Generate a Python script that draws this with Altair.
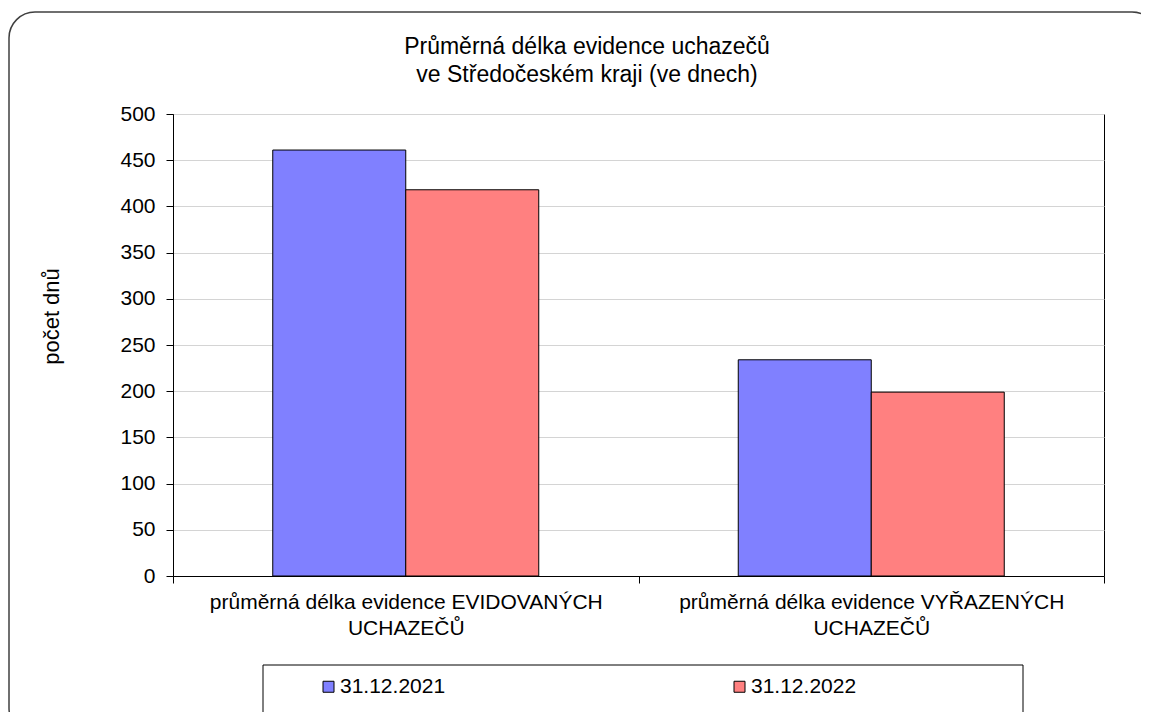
import altair as alt
import pandas as pd

categories = [
    "průměrná délka evidence EVIDOVANÝCH UCHAZEČŮ",
    "průměrná délka evidence VYŘAZENÝCH UCHAZEČŮ",
]
series = ["31.12.2021", "31.12.2022"]
values_2021 = [461, 234]
values_2022 = [418, 199]
colors = ["#8080FF", "#FF8080"]
y_ticks = [0, 50, 100, 150, 200, 250, 300, 350, 400, 450, 500]
title_lines = ["Průměrná délka evidence uchazečů", "ve Středočeském kraji (ve dnech)"]
y_title = "počet dnů"

rows = []
for c, v1, v2 in zip(categories, values_2021, values_2022):
    rows.append({"kategorie": c, "datum": series[0], "dny": v1})
    rows.append({"kategorie": c, "datum": series[1], "dny": v2})
df = pd.DataFrame(rows)

W, H = 931, 462
FONT = "Liberation Sans"
FS = 21

label_expr = ("[slice(datum.label, 0, lastindexof(datum.label, ' ')), "
              "slice(datum.label, lastindexof(datum.label, ' ') + 1)]")

bars = alt.Chart(df).mark_bar(stroke="black", strokeWidth=1).encode(
    x=alt.X(
        "kategorie:N", sort=categories,
        scale=alt.Scale(paddingInner=0, paddingOuter=0),
        axis=alt.Axis(
            title=None, labelAngle=0, tickBand="extent", labelExpr=label_expr,
            labelFontSize=FS, labelFont=FONT, labelLineHeight=26, labelPadding=8,
            labelColor="black", labelLimit=0, tickSize=7, tickColor="black",
            domainColor="black", grid=False,
        ),
    ),
    xOffset=alt.XOffset("datum:N", sort=series,
                        scale=alt.Scale(paddingInner=0, paddingOuter=0.75)),
    y=alt.Y(
        "dny:Q", scale=alt.Scale(domain=[0, 500], nice=False),
        axis=alt.Axis(
            values=y_ticks, title=y_title, titleFont=FONT, titleFontSize=22,
            titleFontWeight="normal", titleColor="black", titlePadding=56,
            titleY=202,
            labelFont=FONT, labelFontSize=FS, labelColor="black", labelPadding=11,
            tickSize=7, tickColor="black", domainColor="black",
            gridColor="#d4d4d4", gridWidth=1,
        ),
    ),
    color=alt.Color(
        "datum:N", scale=alt.Scale(domain=series, range=colors),
        legend=alt.Legend(
            title=None, orient="none", legendX=145, legendY=562,
            direction="horizontal", symbolType="square", symbolSize=121,
            symbolStrokeColor="black", symbolStrokeWidth=1, symbolOpacity=1,
            labelFont=FONT, labelFontSize=FS, labelColor="black",
            labelOffset=1, columnPadding=283, padding=0,
        ),
    ),
)

one = pd.DataFrame({"a": [0]})
frame = alt.Chart(one).mark_rect(
    fill=None, fillOpacity=0, stroke="#404040", strokeWidth=1.5, cornerRadius=26
).encode(
    x=alt.value(-164), x2=alt.value(985), y=alt.value(-102), y2=alt.value(620)
)
legend_box = alt.Chart(one).mark_rect(
    fillOpacity=0, stroke="black", strokeWidth=1
).encode(
    x=alt.value(90), x2=alt.value(850), y=alt.value(551), y2=alt.value(599)
)
title = alt.Chart(one).mark_text(
    text=title_lines, font=FONT, fontSize=23, color="black",
    align="center", baseline="middle", lineHeight=28,
).encode(x=alt.value(414), y=alt.value(-67))

chart = alt.layer(frame, bars, legend_box, title).properties(
    width=W, height=H,
    autosize=alt.AutoSizeParams(type="none"),
    padding={"left": 165, "top": 106, "right": 37, "bottom": 136},
).configure_view(stroke="black", strokeWidth=1)

chart.save("out.html", embed_options={"renderer": "svg", "actions": False})
